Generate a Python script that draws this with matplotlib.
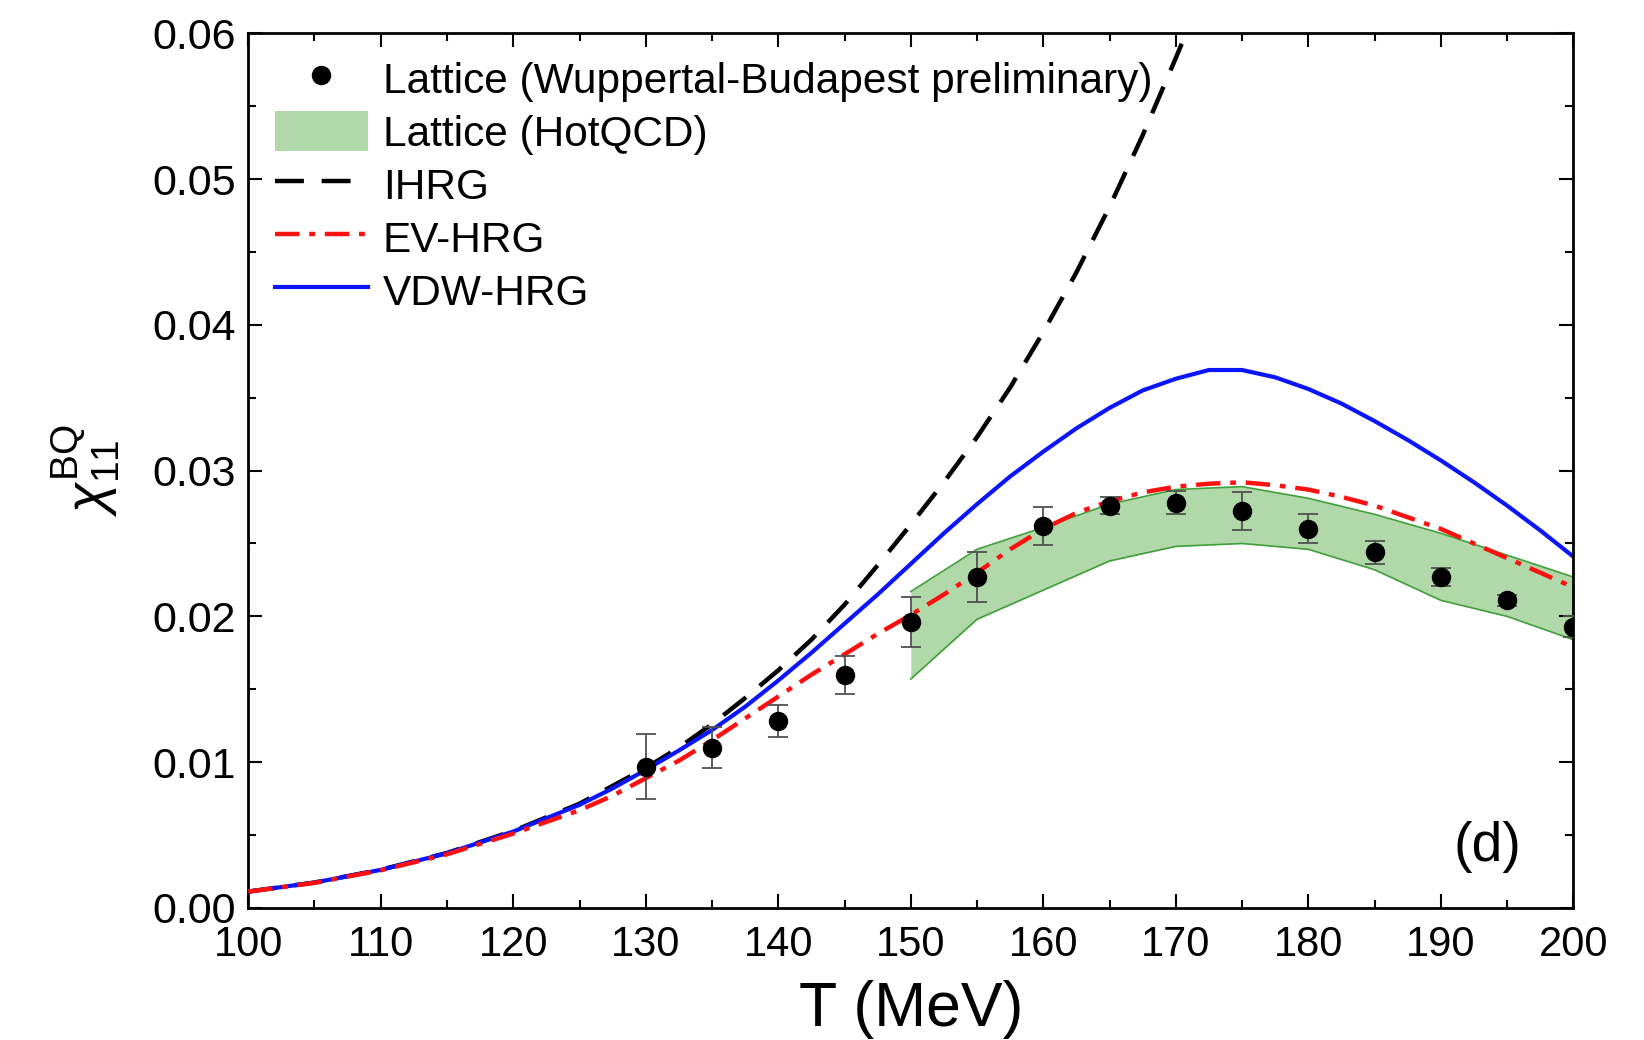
import matplotlib
matplotlib.use('Agg')
import matplotlib.pyplot as plt
from matplotlib.ticker import MultipleLocator
from matplotlib.lines import Line2D

plt.rcParams['font.family'] = ['Liberation Sans', 'DejaVu Sans']
plt.rcParams['mathtext.fontset'] = 'custom'
plt.rcParams['mathtext.rm'] = 'Liberation Sans'
plt.rcParams['mathtext.it'] = 'Liberation Sans:italic'
plt.rcParams['mathtext.sf'] = 'Liberation Sans'

# Wuppertal-Budapest lattice points
T_wb = [130, 135, 140, 145, 150, 155, 160, 165, 170, 175, 180, 185, 190, 195, 200]
chi_wb = [0.0097, 0.0110, 0.0128, 0.0160, 0.0196, 0.0227, 0.0262, 0.0276, 0.0278,
          0.0272, 0.0260, 0.0244, 0.0227, 0.0211, 0.0193]
err_wb = [0.0022, 0.0014, 0.0011, 0.0013, 0.0017, 0.0017, 0.0013, 0.0006, 0.0008,
          0.0013, 0.0010, 0.0008, 0.0006, 0.0004, 0.0007]

# HotQCD band
T_hot = [150, 155, 160, 165, 170, 175, 180, 185, 190, 195, 200]
hot_lo = [0.0157, 0.0198, 0.0218, 0.0238, 0.0248, 0.0250, 0.0246, 0.0232, 0.0211, 0.0200, 0.0184]
hot_hi = [0.0217, 0.0246, 0.0261, 0.0277, 0.0287, 0.0289, 0.0281, 0.0270, 0.0257, 0.0242, 0.0227]

# ideal HRG
T_ihrg = [100, 105, 110, 115, 120, 125, 130, 132.5, 135, 137.5, 140, 142.5, 145, 147.5,
          150, 152.5, 155, 157.5, 160, 162.5, 165, 167.5, 170, 171]
chi_ihrg = [0.00112, 0.00174, 0.00262, 0.00377, 0.00528, 0.00715, 0.0096, 0.0110, 0.0126,
            0.0144, 0.0163, 0.0184, 0.0208, 0.0235, 0.0263, 0.0292, 0.0323, 0.0357, 0.0395,
            0.0436, 0.0481, 0.0530, 0.0583, 0.0605]

# EV-HRG and VDW-HRG
T_mod = [100, 105, 110, 115, 120, 125, 127.5, 130, 132.5, 135, 137.5, 140, 142.5, 145,
         147.5, 150, 152.5, 155, 157.5, 160, 162.5, 165, 167.5, 170, 172.5, 175, 177.5,
         180, 182.5, 185, 187.5, 190, 192.5, 195, 197.5, 200]
chi_vdw = [0.00112, 0.00174, 0.00261, 0.00375, 0.00524, 0.00707, 0.0082, 0.00947, 0.0108,
           0.0122, 0.0138, 0.0156, 0.0175, 0.0195, 0.0215, 0.0236, 0.0257, 0.0277, 0.0296,
           0.0313, 0.0329, 0.0343, 0.0355, 0.0363, 0.0369, 0.0369, 0.0364, 0.0356, 0.0346,
           0.0334, 0.0321, 0.0307, 0.0292, 0.0276, 0.0259, 0.0241]
chi_ev = [0.00112, 0.00172, 0.00258, 0.00368, 0.0051, 0.0067, 0.0077, 0.0089, 0.0101,
          0.0115, 0.0130, 0.0145, 0.0160, 0.0174, 0.0188, 0.0201, 0.0215, 0.0230, 0.0246,
          0.0260, 0.0271, 0.0279, 0.0285, 0.0289, 0.0291, 0.0292, 0.0290, 0.0287, 0.0282,
          0.0276, 0.0268, 0.0260, 0.0250, 0.0240, 0.0230, 0.0220]

fig = plt.figure(figsize=(16.44, 10.4), dpi=100)
ax = fig.add_axes([0.151, 0.127, 0.806, 0.841])

band = ax.fill_between(T_hot, hot_lo, hot_hi, color='#b0d8a8', lw=0, zorder=1)
ax.plot(T_hot, hot_lo, color='#3f9f3a', lw=1.2, zorder=1.5)
ax.plot(T_hot, hot_hi, color='#3f9f3a', lw=1.2, zorder=1.5)

l_ih, = ax.plot(T_ihrg, chi_ihrg, color='black', lw=3.2, dashes=(6.5, 4), zorder=2)
l_ev, = ax.plot(T_mod, chi_ev, color='#ff1010', lw=3.2, dashes=(5.5, 2.2, 1.3, 2.2), zorder=3)
l_vdw, = ax.plot(T_mod, chi_vdw, color='#0a14ff', lw=3.0, zorder=2.5)

ax.errorbar(T_wb, chi_wb, yerr=err_wb, fmt='o', color='black', ms=13, ecolor='#505050',
            elinewidth=1.3, capsize=7, capthick=1.3, zorder=4)
dot = Line2D([], [], ls='none', marker='o', color='black', ms=13)

ax.set_xlim(100, 200)
ax.set_ylim(0, 0.06)
ax.xaxis.set_major_locator(MultipleLocator(10))
ax.xaxis.set_minor_locator(MultipleLocator(5))
ax.yaxis.set_major_locator(MultipleLocator(0.01))
ax.yaxis.set_minor_locator(MultipleLocator(0.005))
ax.yaxis.set_major_formatter(matplotlib.ticker.FormatStrFormatter('%.2f'))
ax.tick_params(which='both', direction='in', top=True, right=True, width=1.5)
ax.tick_params(which='major', length=10)
ax.tick_params(which='minor', length=6)
ax.tick_params(axis='x', labelsize=30, pad=12)
ax.tick_params(axis='y', labelsize=31, pad=9)
for s in ax.spines.values():
    s.set_linewidth(2)

ax.set_xlabel('T (MeV)', fontsize=45, labelpad=11)
ax.set_ylabel(r'$\chi^{\mathrm{BQ}}_{11}$', fontsize=40, labelpad=22)
ax.text(0.935, 0.07, '(d)', transform=ax.transAxes, fontsize=40, ha='center', va='center')

ax.legend([dot, band, l_ih, l_ev, l_vdw],
          ['Lattice (Wuppertal-Budapest preliminary)', 'Lattice (HotQCD)', 'IHRG',
           'EV-HRG', 'VDW-HRG'],
          loc='upper left', bbox_to_anchor=(0.02, 0.972), frameon=False, fontsize=30.5,
          borderpad=0, borderaxespad=0, handlelength=2.2, handleheight=1.1,
          handletextpad=0.35, labelspacing=0.22)

fig.savefig('out.png', dpi=100)
